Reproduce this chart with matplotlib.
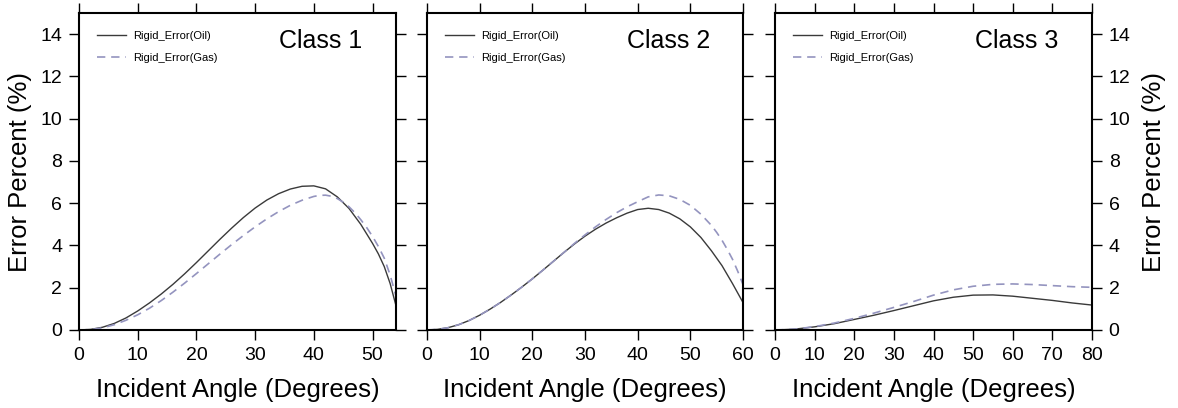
import numpy as np
import matplotlib
matplotlib.use("Agg")
import matplotlib.pyplot as plt

plt.rcParams['font.family'] = ['Liberation Sans', 'DejaVu Sans']

# values
class_names = ["Class 1", "Class 2", "Class 3"]
x_max = [54, 60, 80]
x_ticks = [[0, 10, 20, 30, 40, 50],
           [0, 10, 20, 30, 40, 50, 60],
           [0, 10, 20, 30, 40, 50, 60, 70, 80]]

angle_c1_oil = [0, 2, 4, 6, 8, 10, 12, 14, 16, 18, 20, 22, 24, 26, 28, 30, 32, 34, 36, 38, 40,
                42, 44, 46, 48, 50, 51, 52, 53, 54]
oil_c1 = [0, 0.03, 0.13, 0.31, 0.57, 0.9, 1.28, 1.7, 2.16, 2.66, 3.19, 3.74, 4.29, 4.82, 5.32,
          5.77, 6.15, 6.45, 6.67, 6.8, 6.82, 6.68, 6.3, 5.75, 5.0, 4.1, 3.6, 3.0, 2.2, 1.15]
angle_c1_gas = [0, 2, 4, 6, 8, 10, 12, 14, 16, 18, 20, 22, 24, 26, 28, 30, 32, 34, 36, 38, 40, 41,
                42, 43, 44, 45, 46, 47, 48, 49, 50, 51, 52, 53, 54]
gas_c1 = [0, 0.02, 0.1, 0.25, 0.46, 0.72, 1.03, 1.39, 1.79, 2.22, 2.67, 3.13, 3.59, 4.04, 4.47,
          4.88, 5.26, 5.6, 5.9, 6.14, 6.32, 6.37, 6.38, 6.33, 6.22, 6.05, 5.83, 5.55, 5.22, 4.85,
          4.43, 3.95, 3.4, 2.6, 1.6]

angle_c2_oil = [0, 2, 4, 6, 8, 10, 12, 14, 16, 18, 20, 22, 24, 26, 28, 30, 32, 34, 36, 38, 40, 42,
                44, 46, 48, 50, 52, 54, 56, 58, 60]
oil_c2 = [0, 0.03, 0.11, 0.25, 0.45, 0.7, 0.99, 1.31, 1.66, 2.03, 2.42, 2.83, 3.25, 3.67, 4.07,
          4.44, 4.77, 5.06, 5.31, 5.53, 5.7, 5.76, 5.7, 5.53, 5.26, 4.88, 4.38, 3.75, 3.05, 2.2, 1.3]
angle_c2_gas = [0, 2, 4, 6, 8, 10, 12, 14, 16, 18, 20, 22, 24, 26, 28, 30, 32, 34, 36, 38, 40, 42,
                44, 46, 48, 50, 52, 54, 55, 56, 57, 58, 59, 60]
gas_c2 = [0, 0.03, 0.11, 0.25, 0.45, 0.7, 0.99, 1.31, 1.66, 2.03, 2.42, 2.83, 3.25, 3.67, 4.1,
          4.5, 4.88, 5.23, 5.55, 5.83, 6.07, 6.3, 6.39, 6.35, 6.18, 5.9, 5.48, 4.95, 4.62, 4.25,
          3.82, 3.35, 2.78, 2.15]

angle_c3 = [0, 5, 10, 15, 20, 25, 30, 35, 40, 45, 50, 55, 60, 65, 70, 75, 80]
oil_c3 = [0, 0.04, 0.15, 0.3, 0.5, 0.7, 0.92, 1.15, 1.38, 1.55, 1.65, 1.66, 1.6, 1.5, 1.4, 1.28, 1.18]
gas_c3 = [0, 0.04, 0.16, 0.33, 0.55, 0.8, 1.07, 1.35, 1.65, 1.9, 2.07, 2.16, 2.18, 2.15, 2.1, 2.05, 2.02]

panels = [
    (angle_c1_oil, oil_c1, angle_c1_gas, gas_c1),
    (angle_c2_oil, oil_c2, angle_c2_gas, gas_c2),
    (angle_c3, oil_c3, angle_c3, gas_c3),
]

fig = plt.figure(figsize=(11.78, 4.08), dpi=100)
W, H = 1178, 408
lefts = [79, 427, 775]
widths = [317, 316, 317]
bottom, top = 330, 13

for i, (xo, yo, xg, yg) in enumerate(panels):
    ax = fig.add_axes([lefts[i] / W, (H - bottom) / H, widths[i] / W, (bottom - top) / H])
    ax.plot(xo, yo, color='#3a3a3a', lw=1.0, label='Rigid_Error(Oil)')
    ax.plot(xg, yg, color='#9494bf', lw=1.2, ls=(0, (5, 3.5)), label='Rigid_Error(Gas)')
    ax.set_xlim(0, x_max[i])
    ax.set_ylim(0, 15)
    ax.set_xticks(x_ticks[i])
    ax.set_yticks(range(0, 15, 2))
    for s in ax.spines.values():
        s.set_linewidth(1.5)
    ax.tick_params(direction='out', length=7, width=1, labelsize=14, pad=5,
                   top=True, right=True, bottom=True, left=True,
                   labelleft=(i == 0), labelright=(i == 2))
    ax.set_xlabel("Incident Angle (Degrees)", fontsize=18.5, labelpad=10)
    if i == 0:
        ax.set_ylabel("Error Percent (%)", fontsize=18.5, labelpad=6)
    if i == 2:
        ax.yaxis.set_label_position('right')
        ax.set_ylabel("Error Percent (%)", fontsize=18.5, labelpad=8)
    ax.text(0.895, 0.912, class_names[i], transform=ax.transAxes,
            ha='right', va='center', fontsize=18)
    ax.legend(loc='upper left', bbox_to_anchor=(0.025, 0.975), frameon=False,
              fontsize=8, handlelength=2.6, handletextpad=0.7, labelspacing=1.1)

fig.savefig("out.png", dpi=100)
